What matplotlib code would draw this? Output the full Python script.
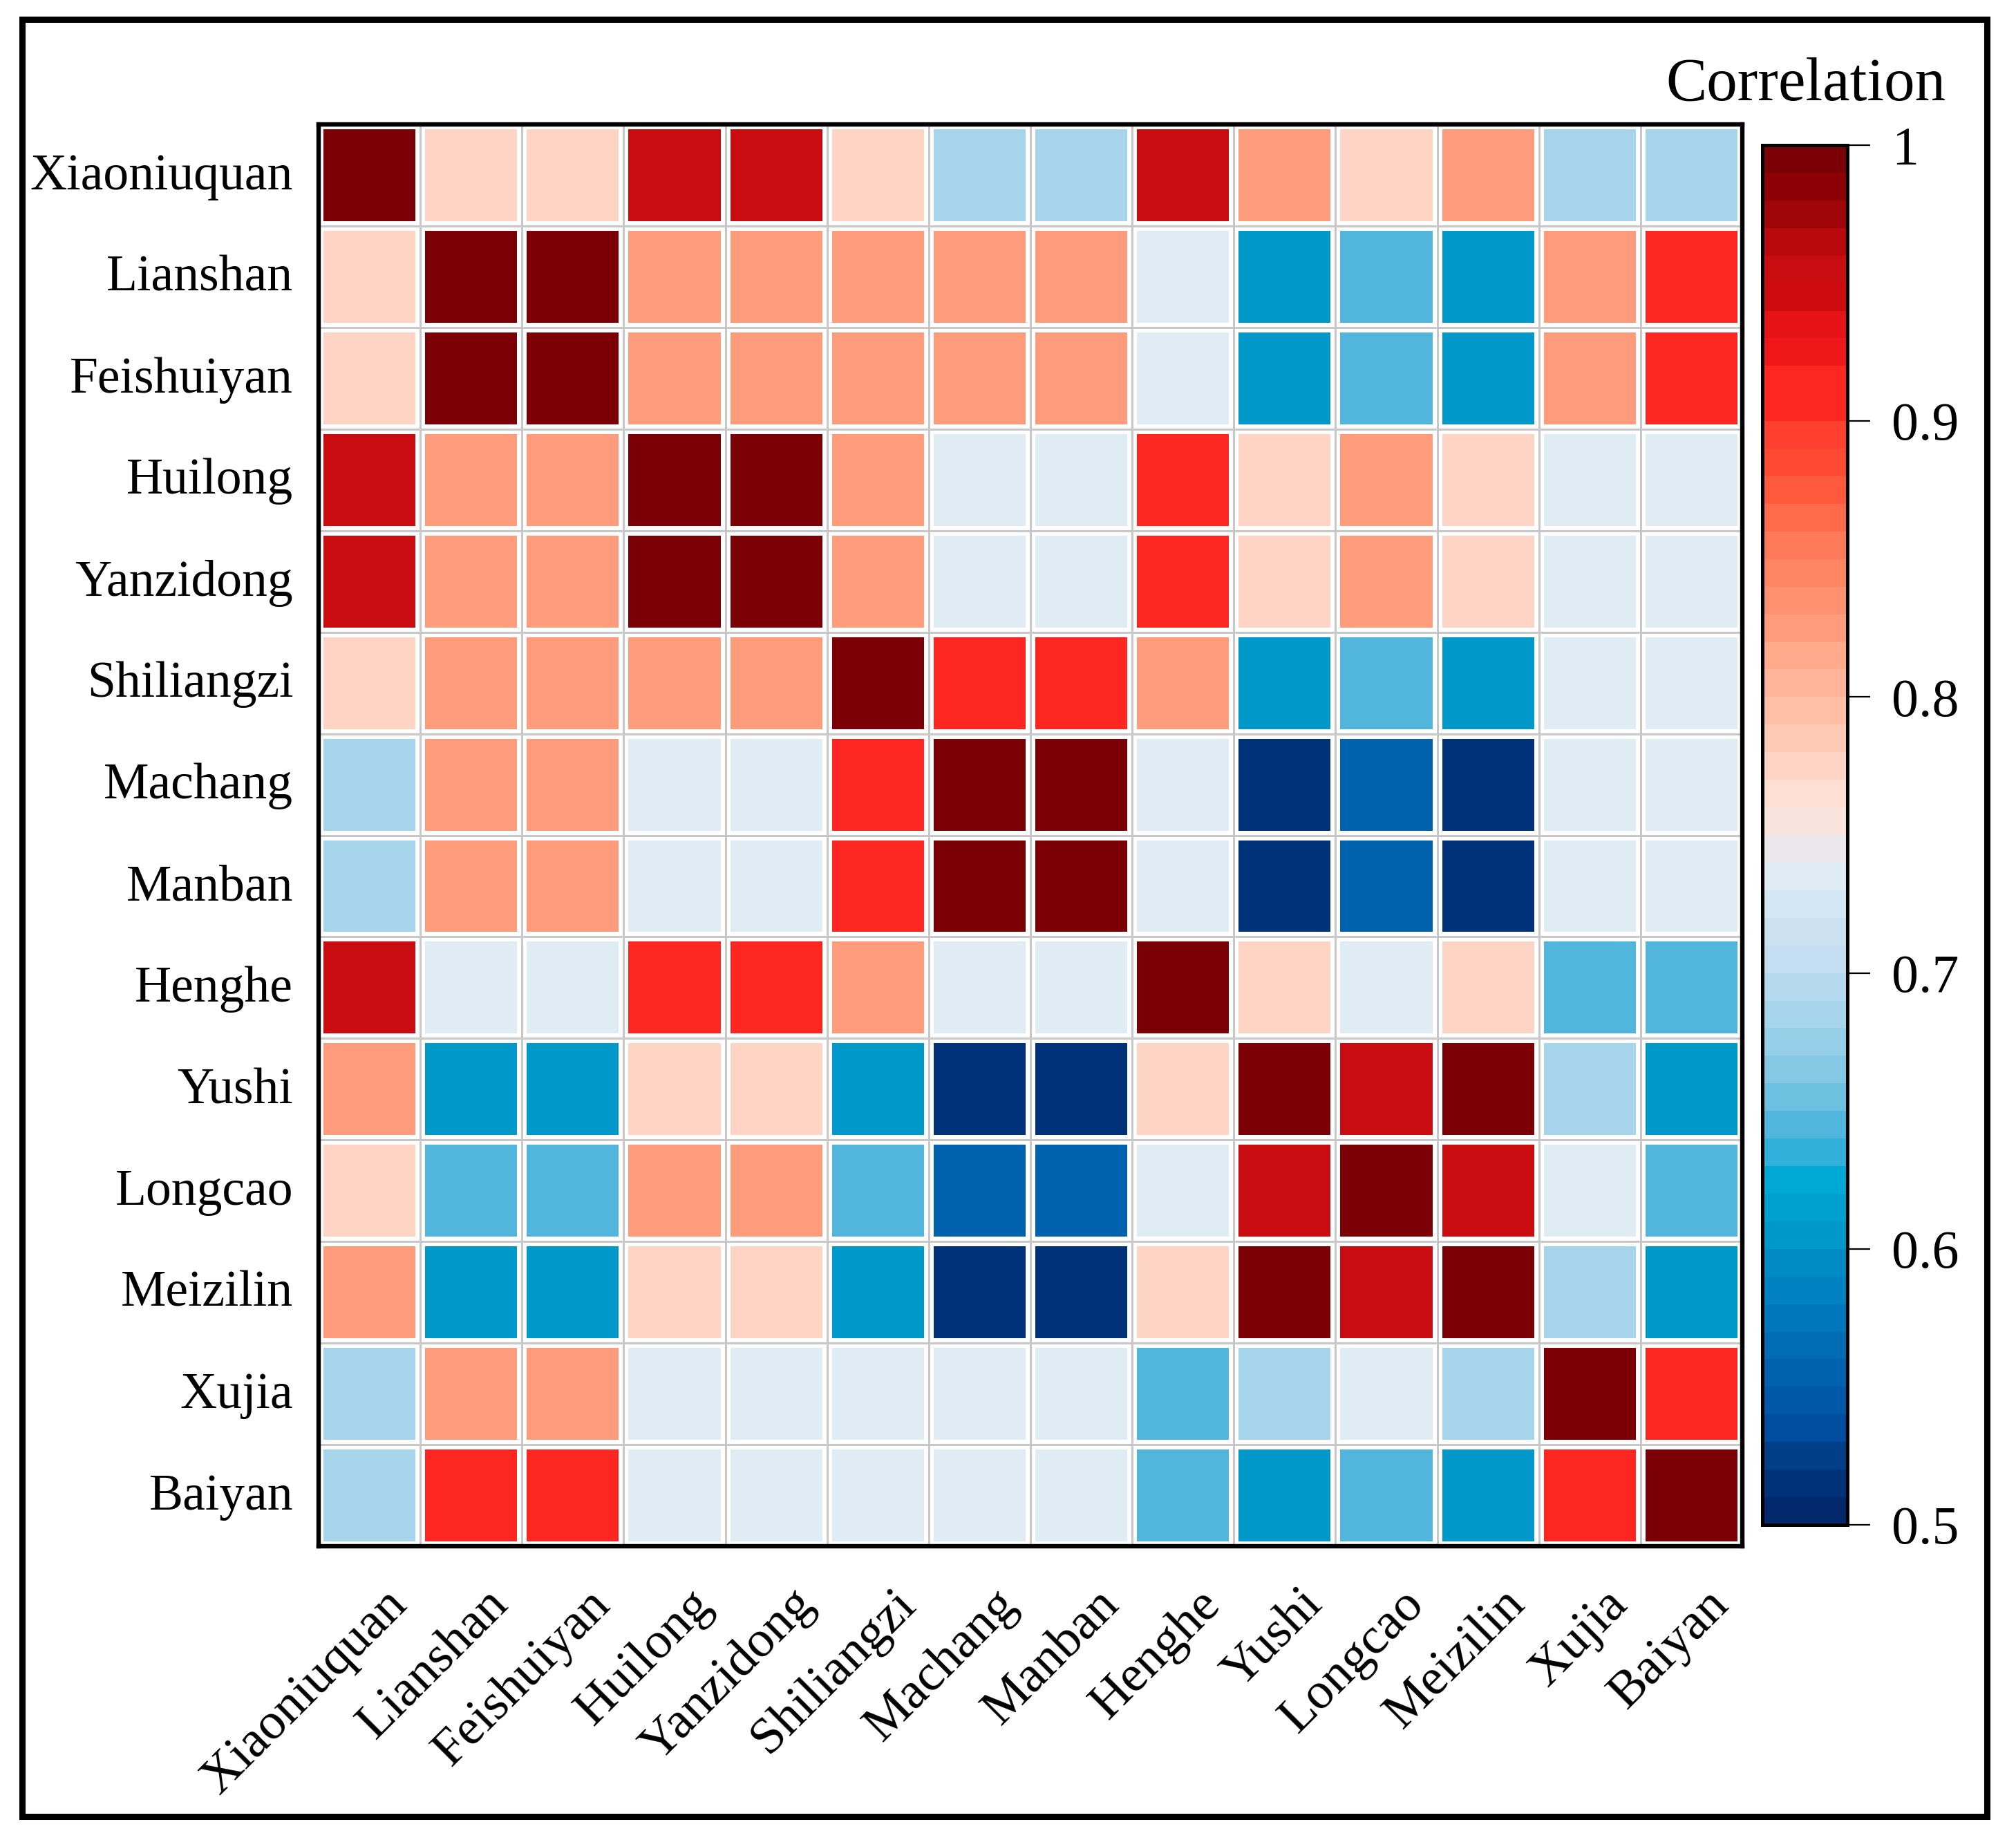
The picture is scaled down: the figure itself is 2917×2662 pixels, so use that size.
import numpy as np
import matplotlib
matplotlib.use("Agg")
import matplotlib.pyplot as plt
from matplotlib.colors import ListedColormap, Normalize
from matplotlib.patches import Rectangle
from matplotlib.transforms import ScaledTranslation

plt.rcParams["font.family"] = ["Liberation Serif", "DejaVu Serif"]

stations = ["Xiaoniuquan", "Lianshan", "Feishuiyan", "Huilong", "Yanzidong", "Shiliangzi", "Machang",
            "Manban", "Henghe", "Yushi", "Longcao", "Meizilin", "Xujia", "Baiyan"]

row_xiaoniuquan = [1.00, .775, .775, .955, .955, .775, .685, .685, .955, .825, .775, .825, .685, .685]
row_lianshan = [.775, 1.00, 1.00, .825, .825, .825, .825, .825, .735, .605, .645, .605, .825, .905]
row_feishuiyan = [.775, 1.00, 1.00, .825, .825, .825, .825, .825, .735, .605, .645, .605, .825, .905]
row_huilong = [.955, .825, .825, 1.00, 1.00, .825, .735, .735, .905, .775, .825, .775, .735, .735]
row_yanzidong = [.955, .825, .825, 1.00, 1.00, .825, .735, .735, .905, .775, .825, .775, .735, .735]
row_shiliangzi = [.775, .825, .825, .825, .825, 1.00, .905, .905, .825, .605, .645, .605, .735, .735]
row_machang = [.685, .825, .825, .735, .735, .905, 1.00, 1.00, .735, .515, .555, .515, .735, .735]
row_manban = [.685, .825, .825, .735, .735, .905, 1.00, 1.00, .735, .515, .555, .515, .735, .735]
row_henghe = [.955, .735, .735, .905, .905, .825, .735, .735, 1.00, .775, .735, .775, .645, .645]
row_yushi = [.825, .605, .605, .775, .775, .605, .515, .515, .775, 1.00, .955, 1.00, .685, .605]
row_longcao = [.775, .645, .645, .825, .825, .645, .555, .555, .735, .955, 1.00, .955, .735, .645]
row_meizilin = [.825, .605, .605, .775, .775, .605, .515, .515, .775, 1.00, .955, 1.00, .685, .605]
row_xujia = [.685, .825, .825, .735, .735, .735, .735, .735, .645, .685, .735, .685, 1.00, .905]
row_baiyan = [.685, .905, .905, .735, .735, .735, .735, .735, .645, .605, .645, .605, .905, 1.00]

# one colour per 0.01 step, from 0.50 up to 1
band_colors = ["#00286b", "#00327a", "#003e88", "#004d9e", "#0058a6", "#0062ac", "#006cb2", "#0077ba", "#0081c0", "#008bc4",
               "#0097c9", "#00a0ce", "#00a8d3", "#30b0da", "#52b6dc", "#6cc0e0", "#84c8e3", "#96cfe8", "#a6d4ea", "#b5d9ee",
               "#c4ddf0", "#cde2f1", "#d3e7f4", "#dfecf3", "#ebe8ec", "#f8e4dc", "#ffdfd2", "#fed5c5", "#ffcab5", "#ffbfa6",
               "#ffb59a", "#ffaa8a", "#ff9c7c", "#ff9070", "#ff8563", "#ff7a58", "#fe6a4a", "#fd5a3c", "#ff4a32", "#ff4030",
               "#fe2620", "#fe2620", "#f0171a", "#e61316", "#ce0c10", "#c90c10", "#b80a0c", "#9f0508", "#8c0005", "#7a0005"]
cbar_ticks = [0.5, 0.6, 0.7, 0.8, 0.9, 1.0]
cbar_labels = ["0.5", "0.6", "0.7", "0.8", "0.9", "1"]

W, H = 2917, 2662


def rect_px(x0, y0, x1, y1):
    return [x0 / W, 1 - y1 / H, (x1 - x0) / W, (y1 - y0) / H]


matrix = np.array([row_xiaoniuquan, row_lianshan, row_feishuiyan, row_huilong, row_yanzidong, row_shiliangzi,
                   row_machang, row_manban, row_henghe, row_yushi, row_longcao, row_meizilin, row_xujia, row_baiyan])
cmap = ListedColormap(band_colors)
norm = Normalize(0.5, 1.0)

fig = plt.figure(figsize=(W / 100, H / 100), dpi=100)
fig.add_artist(Rectangle((32 / W, 1 - 2628 / H), (2875 - 32) / W, (2628 - 28) / H, transform=fig.transFigure,
                         fill=False, ec="black", lw=6.5, joinstyle="miter"))

ax = fig.add_axes(rect_px(461, 180, 2521, 2237))
n = len(stations)
edges = np.arange(n + 1)
mesh = ax.pcolormesh(edges, edges, matrix, cmap=cmap, norm=norm, edgecolors="white", linewidth=10)
ax.set_xlim(0, n)
ax.set_ylim(n, 0)
ax.set_xticks(edges, minor=True)
ax.set_yticks(edges, minor=True)
ax.grid(which="minor", color="#c8c8c8", lw=2.2)
ax.set_axisbelow(False)
ax.tick_params(which="both", length=0)
for s in ax.spines.values():
    s.set_linewidth(4.6)
    s.set_zorder(6)

centers = edges[:-1] + 0.5
ax.set_yticks(centers)
ax.set_yticklabels(stations, fontsize=53)
ax.tick_params(axis="y", which="major", pad=26.5)
up = ScaledTranslation(0, 0.055, fig.dpi_scale_trans)
for lab in ax.get_yticklabels():
    lab.set_transform(lab.get_transform() + up)
ax.set_xticks(centers)
ax.set_xticklabels(stations, fontsize=54, rotation=45, ha="right", va="center", rotation_mode="anchor")
offset = ScaledTranslation(0.44, -0.69, fig.dpi_scale_trans)
for lab in ax.get_xticklabels():
    lab.set_transform(lab.get_transform() + offset)

cax = fig.add_axes(rect_px(2550, 210, 2673, 2206))
cb = fig.colorbar(mesh, cax=cax)
cb.set_ticks(cbar_ticks)
cb.set_ticklabels(cbar_labels)
cb.ax.tick_params(length=24, width=1.6, labelsize=56, pad=22)
cb.ax.minorticks_off()
cb.outline.set_linewidth(3.6)

fig.text(2815 / W, 1 - 145 / H, "Correlation", fontsize=64, ha="right", va="baseline")

fig.savefig("out.png", dpi=100)
